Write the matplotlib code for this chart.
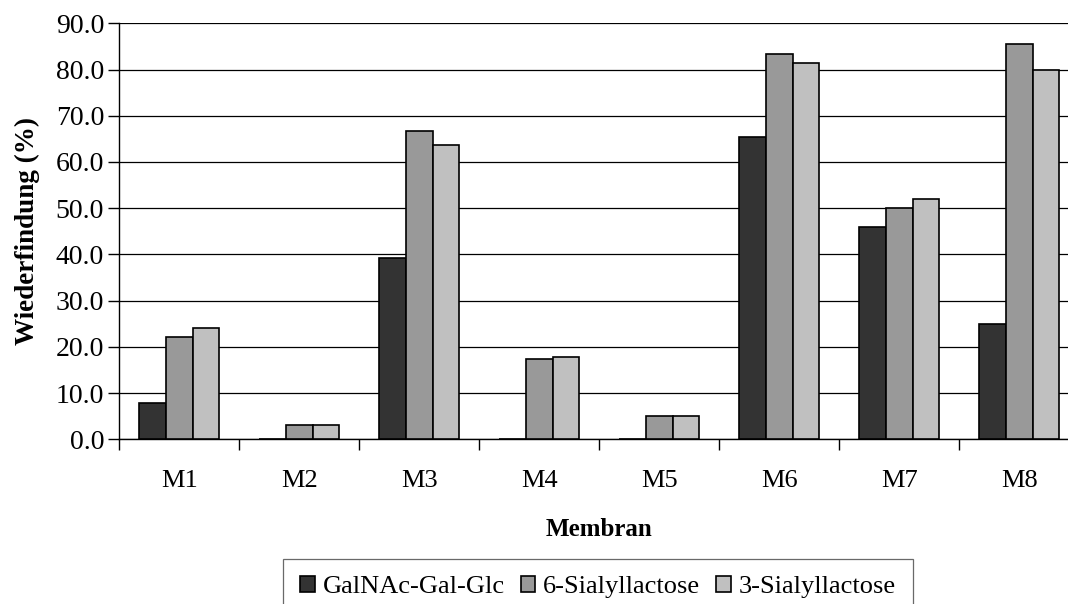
import numpy as np
import matplotlib
matplotlib.use('Agg')
import matplotlib.pyplot as plt
from matplotlib.ticker import FixedLocator, FormatStrFormatter

plt.rcParams['font.family'] = ['Liberation Serif', 'DejaVu Serif']

membranes = ['M1', 'M2', 'M3', 'M4', 'M5', 'M6', 'M7', 'M8']
galnac = [7.8, 0, 39.2, 0, 0, 65.5, 45.9, 25.0]
sialyl6 = [22.2, 3.1, 66.8, 17.3, 5.0, 83.3, 50.0, 85.6]
sialyl3 = [24.0, 3.1, 63.7, 17.7, 5.0, 81.5, 51.9, 80.0]
series = ['GalNAc-Gal-Glc', '6-Sialyllactose', '3-Sialyllactose']
colors = ['#333333', '#999999', '#c0c0c0']

fig = plt.figure(figsize=(10.68, 6.04), dpi=100)
# plot area runs a bit past the right edge, like the original (cropped) figure
ax = fig.add_axes([0.1117, 0.2727, 0.8989, 0.6887])

x = np.arange(len(membranes))
w = 1 / 4.5
for i, (vals, name, c) in enumerate(zip([galnac, sialyl6, sialyl3], series, colors)):
    ax.bar(x + (i - 1) * w, vals, width=w, color=c, edgecolor='black',
           linewidth=1.2, label=name, zorder=3)

ax.set_xlim(-0.5, len(membranes) - 0.5)
ax.set_ylim(0, 90)
ax.yaxis.set_major_locator(FixedLocator(np.arange(0, 91, 10)))
ax.yaxis.set_major_formatter(FormatStrFormatter('%.1f'))
ax.grid(axis='y', color='black', linewidth=0.9, zorder=0)

ax.set_xticks(np.arange(-0.5, len(membranes), 1))
ax.set_xticklabels([])
ax.set_xticks(x, minor=True)
ax.set_xticklabels(membranes, minor=True)
ax.tick_params(axis='x', which='major', length=8, width=1, direction='out')
ax.tick_params(axis='x', which='minor', length=0, pad=22, labelsize=19)
ax.tick_params(axis='y', length=8, width=1, labelsize=20, pad=3)

for s in ['top', 'right']:
    ax.spines[s].set_visible(False)
ax.spines['left'].set_linewidth(1)
ax.spines['bottom'].set_linewidth(1)

ax.set_ylabel('Wiederfindung (%)', fontsize=19.5, fontweight='bold', labelpad=11)
ax.set_xlabel('Membran', fontsize=18, fontweight='bold', labelpad=19)

leg = fig.legend(loc='upper center', bbox_to_anchor=(598 / 1068, 1 - 559 / 604), ncol=3,
                 fontsize=19, frameon=True, fancybox=False, edgecolor='#444444',
                 handlelength=0.55, handleheight=0.55, handletextpad=0.3,
                 columnspacing=0.6, borderpad=0.65, borderaxespad=0)
leg.get_frame().set_linewidth(0.9)

fig.savefig('out.png', dpi=100)
